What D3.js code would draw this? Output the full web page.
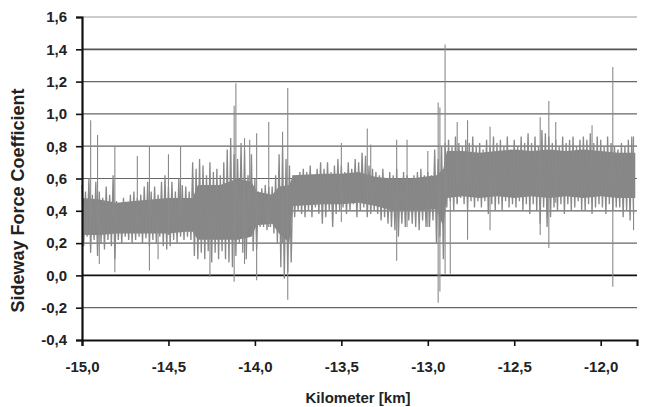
<!DOCTYPE html>
<html>
<head>
<meta charset="utf-8">
<script src="https://cdn.jsdelivr.net/npm/d3@7"></script>
<style>
  body { margin: 0; background: #fff; }
  svg { display: block; font-family: "Liberation Sans", Arial, sans-serif; }
</style>
</head>
<body>
<div id="chart"></div>
<script>
// signal: max / min per 0.02 km bin, starting at -15.0
const binStart = -15.0
const binStep = 0.02
const binHi = [
  0.56, 0.52, 0.60, 0.50, 0.58,  0.52, 0.48, 0.55, 0.50, 0.62,
  0.46, 0.44, 0.48, 0.45, 0.50,  0.52, 0.48, 0.50, 0.55, 0.58,
  0.52, 0.55, 0.50, 0.58, 0.62,  0.55, 0.58, 0.52, 0.60, 0.56,
  0.55, 0.52, 0.70, 0.66, 0.72,  0.68, 0.62, 0.70, 0.64, 0.66,
  0.62, 0.70, 0.78, 0.85, 0.75,  0.72, 0.82, 0.78, 0.62, 0.75,
  0.60, 0.52, 0.54, 0.56, 0.55,  0.55, 0.62, 0.75, 0.80, 0.72,
  0.68, 0.62, 0.60, 0.64, 0.66,  0.64, 0.68, 0.62, 0.66, 0.70,
  0.66, 0.70, 0.64, 0.68, 0.72,  0.68, 0.64, 0.70, 0.66, 0.72,
  0.70, 0.76, 0.74, 0.68, 0.66,  0.64, 0.62, 0.66, 0.60, 0.64,
  0.62, 0.66, 0.60, 0.64, 0.62,  0.60, 0.62, 0.64, 0.66, 0.62,
  0.64, 0.62, 0.78, 0.72, 0.80,  0.82, 0.84, 0.80, 0.86, 0.82,
  0.80, 0.84, 0.82, 0.86, 0.80,  0.82, 0.78, 0.84, 0.80, 0.86,
  0.82, 0.84, 0.80, 0.86, 0.78,  0.84, 0.80, 0.86, 0.82, 0.88,
  0.82, 0.86, 0.80, 0.90, 0.88,  0.86, 0.82, 0.84, 0.80, 0.86,
  0.82, 0.84, 0.86, 0.80, 0.84,  0.86, 0.84, 0.88, 0.82, 0.86,
  0.84, 0.80, 0.86, 0.82, 0.80,  0.78, 0.82, 0.80, 0.84, 0.86
]
const binLo = [
  0.18, 0.24, 0.14, 0.22, 0.12,  0.20, 0.16, 0.22, 0.18, 0.10,
  0.22, 0.20, 0.24, 0.22, 0.20,  0.22, 0.24, 0.20, 0.23, 0.18,
  0.22, 0.20, 0.24, 0.18, 0.16,  0.18, 0.22, 0.20, 0.24, 0.22,
  0.24, 0.22, 0.12, 0.10, 0.14,  0.10, 0.15, 0.08, 0.14, 0.10,
  0.15, 0.10, 0.08, 0.05, 0.12,  0.20, 0.14, 0.10, 0.30, 0.15,
  0.16, 0.30, 0.30, 0.28, 0.30,  0.26, 0.20, 0.05, -0.02, 0.02,
  0.08, 0.36, 0.40, 0.38, 0.36,  0.40, 0.36, 0.42, 0.38, 0.32,
  0.36, 0.40, 0.30, 0.38, 0.40,  0.42, 0.38, 0.40, 0.44, 0.36,
  0.40, 0.42, 0.36, 0.38, 0.40,  0.38, 0.34, 0.36, 0.32, 0.30,
  0.28, 0.24, 0.32, 0.30, 0.34,  0.32, 0.30, 0.28, 0.34, 0.30,
  0.30, 0.34, 0.20, 0.24, 0.10,  0.42, 0.46, 0.40, 0.44, 0.48,
  0.44, 0.40, 0.46, 0.42, 0.46,  0.42, 0.46, 0.38, 0.44, 0.40,
  0.44, 0.40, 0.46, 0.42, 0.44,  0.42, 0.46, 0.40, 0.44, 0.38,
  0.44, 0.40, 0.32, 0.42, 0.30,  0.36, 0.42, 0.40, 0.44, 0.38,
  0.44, 0.40, 0.42, 0.46, 0.40,  0.40, 0.44, 0.38, 0.42, 0.44,
  0.42, 0.38, 0.44, 0.40, 0.42,  0.42, 0.36, 0.40, 0.34, 0.38
]

// dense core of the band: km, low, high
const coreKm = [-15.0, -14.9, -14.8, -14.7, -14.6, -14.5, -14.4, -14.36, -14.33, -14.2,
  -14.1, -14.02, -13.99, -13.9, -13.86, -13.8, -13.78, -13.6, -13.5, -13.4,
  -13.3, -13.2, -13.1, -12.95, -12.91, -12.89, -12.8, -12.7, -12.6, -12.5,
  -12.4, -12.3, -12.2, -12.1, -12.0, -11.9, -11.8]
const coreLo = [0.25, 0.25, 0.26, 0.26, 0.26, 0.26, 0.27, 0.27, 0.22, 0.22,
  0.22, 0.24, 0.31, 0.32, 0.26, 0.20, 0.43, 0.44, 0.44, 0.45,
  0.43, 0.40, 0.40, 0.41, 0.30, 0.48, 0.49, 0.48, 0.49, 0.48,
  0.49, 0.48, 0.49, 0.48, 0.49, 0.48, 0.48]
const coreHi = [0.48, 0.47, 0.45, 0.46, 0.47, 0.48, 0.48, 0.48, 0.56, 0.56,
  0.60, 0.58, 0.52, 0.50, 0.55, 0.56, 0.62, 0.63, 0.63, 0.64,
  0.61, 0.60, 0.60, 0.62, 0.66, 0.77, 0.77, 0.76, 0.77, 0.78,
  0.77, 0.78, 0.77, 0.78, 0.77, 0.76, 0.76]

// isolated spikes: [km, low, high]
const spikes = [
  [-14.95, 0.30, 0.96], [-14.91, 0.30, 0.87], [-14.90, 0.07, 0.40],
  [-14.81, 0.02, 0.80], [-14.68, 0.30, 0.74], [-14.61, 0.03, 0.80],
  [-14.56, 0.10, 0.40], [-14.50, 0.25, 0.75], [-14.43, 0.25, 0.80],
  [-14.26, -0.01, 0.40], [-14.12, -0.04, 1.05], [-14.11, 0.20, 1.19],
  [-14.06, 0.07, 0.85], [-14.03, 0.30, 0.84], [-13.99, -0.03, 0.88],
  [-13.92, 0.30, 0.95], [-13.84, 0.20, 0.89], [-13.81, -0.15, 1.16],
  [-13.50, 0.33, 0.82], [-13.35, 0.40, 0.91], [-13.33, 0.40, 0.81],
  [-13.18, 0.09, 0.84], [-13.12, 0.30, 0.84], [-13.00, 0.30, 0.77],
  [-12.94, -0.17, 1.07], [-12.93, -0.10, 1.04], [-12.90, 0.01, 1.43],
  [-12.87, 0.01, 0.60], [-12.83, 0.45, 0.95], [-12.77, 0.22, 0.96],
  [-12.64, 0.28, 0.92], [-12.35, 0.25, 0.98], [-12.30, 0.17, 1.08],
  [-12.26, 0.45, 0.95], [-12.05, 0.45, 0.93], [-11.93, -0.07, 1.29],
  [-11.81, 0.28, 0.86]
]

const yTicks = [-0.4, -0.2, 0, 0.2, 0.4, 0.6, 0.8, 1.0, 1.2, 1.4, 1.6]
const xTicks = [-15, -14.5, -14, -13.5, -13, -12.5, -12]

const width = 647, height = 407
const margin = { top: 17, right: 10, bottom: 67, left: 82 }

const x = d3.scaleLinear().domain([-15, -11.79]).range([margin.left, width - margin.right])
const y = d3.scaleLinear().domain([-0.4, 1.6]).range([height - margin.bottom, margin.top])
const fmt = d => d3.format('.1f')(d).replace('.', ',').replace('−', '-')
const near = (a, b) => Math.abs(a - b) < 1e-9

const svg = d3.select('#chart').append('svg')
  .attr('width', width)
  .attr('height', height)

// gridlines
svg.append('g').selectAll('line')
  .data(yTicks.filter(d => d > -0.4))
  .join('line')
  .attr('x1', x.range()[0]).attr('x2', x.range()[1])
  .attr('y1', d => y(d)).attr('y2', d => y(d))
  .attr('stroke', d => near(d, 0) ? '#111' : near(d, 1.4) ? '#555' : near(d, 1.6) ? '#999' : '#666')
  .attr('stroke-width', d => (near(d, 0) || near(d, 1.4)) ? 1.8 : 1.2)

const plot = svg.append('g')

// dense core
plot.append('path')
  .datum(coreKm)
  .attr('d', d3.area()
    .x(d => x(d))
    .y0((d, i) => y(coreLo[i]))
    .y1((d, i) => y(coreHi[i])))
  .attr('fill', '#868686')

// signal trace: zig-zag through the max and min of each bin
const trace = []
binHi.forEach((h, i) => {
  const km = binStart + i * binStep
  trace.push([km, h])
  trace.push([km + binStep / 2, binLo[i]])
})
plot.append('path')
  .datum(trace)
  .attr('d', d3.line().x(d => x(d[0])).y(d => y(d[1])))
  .attr('fill', 'none')
  .attr('stroke', '#888')
  .attr('stroke-width', 1.3)

// spikes
plot.selectAll('.spike')
  .data(spikes)
  .join('line')
  .attr('class', 'spike')
  .attr('x1', d => x(d[0])).attr('x2', d => x(d[0]))
  .attr('y1', d => y(d[1])).attr('y2', d => y(d[2]))
  .attr('stroke', '#8a8a8a')
  .attr('stroke-width', 1.1)

// axes
const yAxis = svg.append('g')
  .attr('transform', `translate(${margin.left},0)`)
  .call(d3.axisLeft(y).tickValues(yTicks).tickFormat(fmt).tickSize(6).tickPadding(9))
const xAxis = svg.append('g')
  .attr('transform', `translate(0,${height - margin.bottom})`)
  .call(d3.axisBottom(x).tickValues(xTicks).tickFormat(fmt).tickSize(6).tickPadding(15))

for (const ax of [yAxis, xAxis]) {
  ax.select('.domain').attr('stroke', '#111').attr('stroke-width', 2.2)
  ax.selectAll('.tick line').attr('stroke', '#111').attr('stroke-width', 1.6)
  ax.selectAll('.tick text')
    .attr('fill', '#222')
    .attr('font-size', 15)
    .attr('font-weight', 'bold')
    .attr('font-family', '"Liberation Sans", Arial, sans-serif')
}

// titles
svg.append('text')
  .attr('transform', `translate(24,${(margin.top + height - margin.bottom) / 2 + 22}) rotate(-90)`)
  .attr('text-anchor', 'middle')
  .attr('font-size', 18)
  .attr('font-weight', 'bold')
  .attr('fill', '#222')
  .text('Sideway Force Coefficient')

svg.append('text')
  .attr('x', 358)
  .attr('y', 403)
  .attr('text-anchor', 'middle')
  .attr('font-size', 15)
  .attr('font-weight', 'bold')
  .attr('fill', '#222')
  .text('Kilometer [km]')
</script>
</body>
</html>
